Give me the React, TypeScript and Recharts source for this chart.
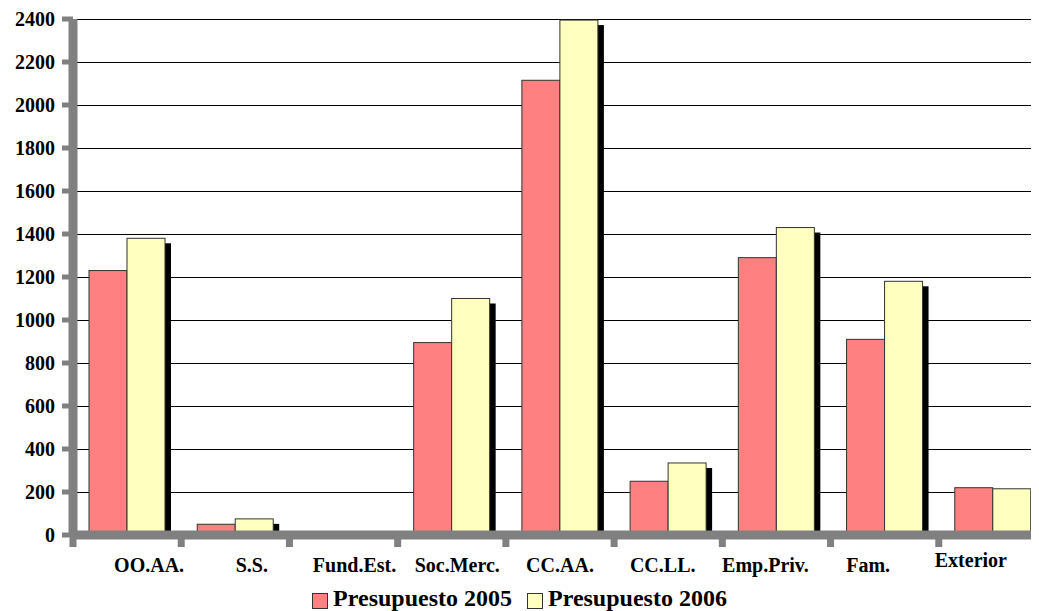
import React from 'react';
import { BarChart, Bar, XAxis, YAxis, CartesianGrid, Legend } from 'recharts';

// Destinatarios del gasto
const categories = [
  'OO.AA.',
  'S.S.',
  'Fund.Est.',
  'Soc.Merc.',
  'CC.AA.',
  'CC.LL.',
  'Emp.Priv.',
  'Fam.',
  'Exterior',
];
const presupuesto2005 = [1230, 50, 0, 895, 2115, 250, 1290, 910, 220];
const presupuesto2006 = [1380, 75, 0, 1100, 2395, 335, 1430, 1180, 215];
const yTicks = [0, 200, 400, 600, 800, 1000, 1200, 1400, 1600, 1800, 2000, 2200, 2400];

const RED = '#FF8080';
const YELLOW = '#FFFFC0';
const AXIS_GRAY = '#808080';
const FONT = '"Liberation Serif", "Times New Roman", serif';

const data = categories.map((name, i) => ({
  name,
  p2005: presupuesto2005[i],
  p2006: presupuesto2006[i],
}));

// bar with a black drop shadow to the lower right
const ShadowBar = (props: any) => {
  const { x, y, width, height, fill } = props;
  if (!height || height <= 0) return null;
  return (
    <g>
      {height > 5 && (
        <rect x={x + 6} y={y + 5} width={width} height={height - 5} fill="#000" />
      )}
      <rect x={x} y={y} width={width} height={height} fill={fill} stroke="#333" strokeWidth={1} />
    </g>
  );
};

const GridLine = (props: any) => (
  <line
    x1={props.x1}
    y1={props.y1}
    x2={props.x2}
    y2={props.y2}
    stroke="#000"
    strokeWidth={1}
    shapeRendering="crispEdges"
  />
);

const ValueTick = (props: any) => {
  const { x, y, payload } = props;
  return (
    <text
      x={x}
      y={y}
      dy={7}
      textAnchor="end"
      fill="#000"
      fontFamily={FONT}
      fontWeight="bold"
      fontSize={20}
    >
      {payload.value}
    </text>
  );
};

// tick marks sit between categories, labels drift slightly towards the middle
const CategoryTick = (props: any) => {
  const { x, y, payload, index } = props;
  const half = payload?.offset ?? 54;
  const boundary = x - half;
  const labelX = x - (index - 4) * 5.5;
  const raise = index === categories.length - 1 ? 5 : 0;
  return (
    <g>
      <rect x={boundary - 3.5} y={y} width={7} height={12} fill={AXIS_GRAY} />
      <text
        x={labelX}
        y={y + 37 - raise}
        textAnchor="middle"
        fill="#000"
        fontFamily={FONT}
        fontWeight="bold"
        fontSize={20}
      >
        {payload.value}
      </text>
    </g>
  );
};

const renderLegend = (props: any) => {
  const { payload = [] } = props;
  return (
    <div
      style={{
        display: 'flex',
        justifyContent: 'center',
        alignItems: 'center',
        height: 26,
        fontFamily: FONT,
        fontWeight: 'bold',
        fontSize: 24,
        lineHeight: '26px',
        color: '#000',
      }}
    >
      {payload.map((entry: any, i: number) => (
        <div
          key={entry.value}
          style={{ display: 'flex', alignItems: 'center', marginLeft: i === 0 ? 0 : 15 }}
        >
          <span
            style={{
              display: 'inline-block',
              width: 14,
              height: 14,
              background: entry.color,
              border: '1px solid #333',
              marginRight: 5,
              marginTop: 5,
            }}
          />
          <span>{entry.value}</span>
        </div>
      ))}
    </div>
  );
};

export default function App() {
  return (
    <div
      style={{
        width: 1039,
        height: 611,
        overflow: 'hidden',
        margin: '-8px 0 0 -8px',
        position: 'relative',
        background: '#fff',
      }}
    >
      <BarChart
        width={1047}
        height={611}
        data={data}
        barGap={0}
        margin={{ top: 19, right: 0, bottom: 0, left: 0 }}
      >
        <CartesianGrid vertical={false} horizontal={GridLine} />
        <Bar
          dataKey="p2005"
          name="Presupuesto 2005"
          fill={RED}
          barSize={38}
          shape={ShadowBar}
          isAnimationActive={false}
        />
        <Bar
          dataKey="p2006"
          name="Presupuesto 2006"
          fill={YELLOW}
          barSize={38}
          shape={ShadowBar}
          isAnimationActive={false}
        />
        <YAxis
          domain={[0, 2400]}
          ticks={yTicks}
          interval={0}
          width={73}
          axisLine={{ stroke: AXIS_GRAY, strokeWidth: 9 }}
          tickLine={{ stroke: AXIS_GRAY, strokeWidth: 5 }}
          tickSize={11}
          tickMargin={7}
          tick={<ValueTick />}
        />
        <XAxis
          dataKey="name"
          height={50}
          interval={0}
          axisLine={{ stroke: AXIS_GRAY, strokeWidth: 9 }}
          tickLine={false}
          tickSize={0}
          tickMargin={0}
          tick={<CategoryTick />}
        />
        <Legend
          verticalAlign="bottom"
          content={renderLegend}
          wrapperStyle={{ left: 0, width: 1039, top: 585, bottom: 'auto', height: 26 }}
        />
      </BarChart>
    </div>
  );
}
